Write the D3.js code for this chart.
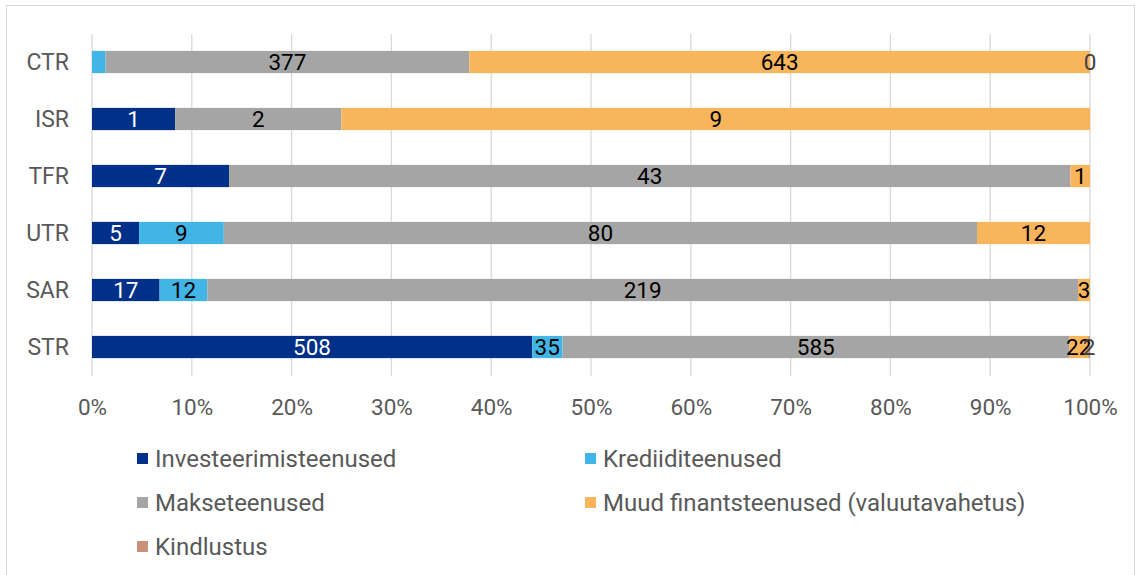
<!DOCTYPE html>
<html><head><meta charset="utf-8">
<script src="https://cdn.jsdelivr.net/npm/d3@7"></script>
<style>body{margin:0;background:#fff;} svg{display:block;font-family:Roboto,"Liberation Sans",sans-serif;}</style>
</head><body>
<svg id="c" width="1138" height="575"></svg>
<script>
const categories = ["CTR","ISR","TFR","UTR","SAR","STR"];
const seriesNames = ["Investeerimisteenused","Krediiditeenused","Makseteenused","Muud finantsteenused (valuutavahetus)","Kindlustus"];
const investeerimisteenused = [0, 1, 7, 5, 17, 508];
const krediiditeenused = [14, 0, 0, 9, 12, 35];
const makseteenused = [377, 2, 43, 80, 219, 585];
const muud = [643, 9, 1, 12, 3, 22];
const kindlustus = [0, 0, 0, 0, 0, 2];
// which labels are shown (reference shows labels only for some)
const showLabel = [
  [false,true,true,true,true,true],
  [false,false,false,true,true,true],
  [true,true,true,true,true,true],
  [true,true,true,true,true,true],
  [true,false,false,false,false,true]
];
const tickLabels = ["0%","10%","20%","30%","40%","50%","60%","70%","80%","90%","100%"];
const colors = ["#003087","#41B6E6","#A5A5A5","#F8B55C","#C8917D"];
const labelColors = ["#ffffff","#000000","#000000","#000000","#404040"];

const seriesValues = [investeerimisteenused, krediiditeenused, makseteenused, muud, kindlustus];
const rows = categories.map((c,i)=>{
  const o = {cat:c};
  seriesNames.forEach((s,j)=>o[s]=seriesValues[j][i]);
  return o;
});
const stack = d3.stack().keys(seriesNames).offset(d3.stackOffsetExpand);
const stacked = stack(rows);

const svg = d3.select("#c");
svg.append("rect").attr("x",6.5).attr("y",5.5).attr("width",1128).attr("height",575).attr("fill","none").attr("stroke","#d9d9d9");

const x = d3.scaleLinear().domain([0,1]).range([92,1090]);
const y = d3.scaleBand().domain(categories).range([33.5,375.5]).paddingInner(0.61).paddingOuter(0.305);

// gridlines
svg.append("g").selectAll("line").data(d3.range(0,1.0001,0.1)).join("line")
  .attr("x1",d=>x(d)).attr("x2",d=>x(d)).attr("y1",34).attr("y2",376)
  .attr("stroke","#d9d9d9").attr("stroke-width",1.3);

// x axis
const xAxis = d3.axisBottom(x).tickValues(d3.range(0,1.0001,0.1)).tickFormat((d,i)=>tickLabels[i]).tickSize(0).tickPadding(0);
const gx = svg.append("g").attr("transform","translate(0,407)").call(xAxis);
gx.select(".domain").remove();
gx.selectAll("text").attr("font-size",22.5).attr("fill","#595959").attr("font-family","Roboto").attr("dy","0.36em").attr("y",0);

// y axis
const yAxis = d3.axisLeft(y).tickSize(0).tickPadding(0);
const gy = svg.append("g").attr("transform","translate(69,0)").call(yAxis);
gy.select(".domain").remove();
gy.selectAll("text").attr("font-size",23).attr("fill","#595959").attr("font-family","Roboto").attr("dy","0.36em");

// bars
stacked.forEach((layer,j)=>{
  const g = svg.append("g");
  g.selectAll("rect").data(layer).join("rect")
    .attr("x",d=>x(d[0])).attr("width",d=>Math.max(0,x(d[1])-x(d[0])))
    .attr("y",d=>y(d.data.cat)).attr("height",y.bandwidth())
    .attr("fill",colors[j]);
});
stacked.forEach((layer,j)=>{
  const g = svg.append("g");
  layer.forEach((d,i)=>{
    if(!showLabel[j][i]) return;
    g.append("text")
      .attr("x",(x(d[0])+x(d[1]))/2)
      .attr("y",y(d.data.cat)+y.bandwidth()/2)
      .attr("dy","0.36em").attr("text-anchor","middle")
      .attr("font-size",22.5).attr("fill", labelColors[j])
      .text(seriesValues[j][i]);
  });
});

// legend
const legendPos = [[137,458],[585,458],[137,502],[585,502],[137,546]];
seriesNames.forEach((s,j)=>{
  const [lx,ly] = legendPos[j];
  svg.append("rect").attr("x",lx).attr("y",ly-5).attr("width",11).attr("height",11).attr("fill",colors[j]);
  svg.append("text").attr("x",lx+18).attr("y",ly).attr("dy","0.36em")
    .attr("font-size",24).attr("fill","#595959").text(s);
});
</script>
</body></html>
